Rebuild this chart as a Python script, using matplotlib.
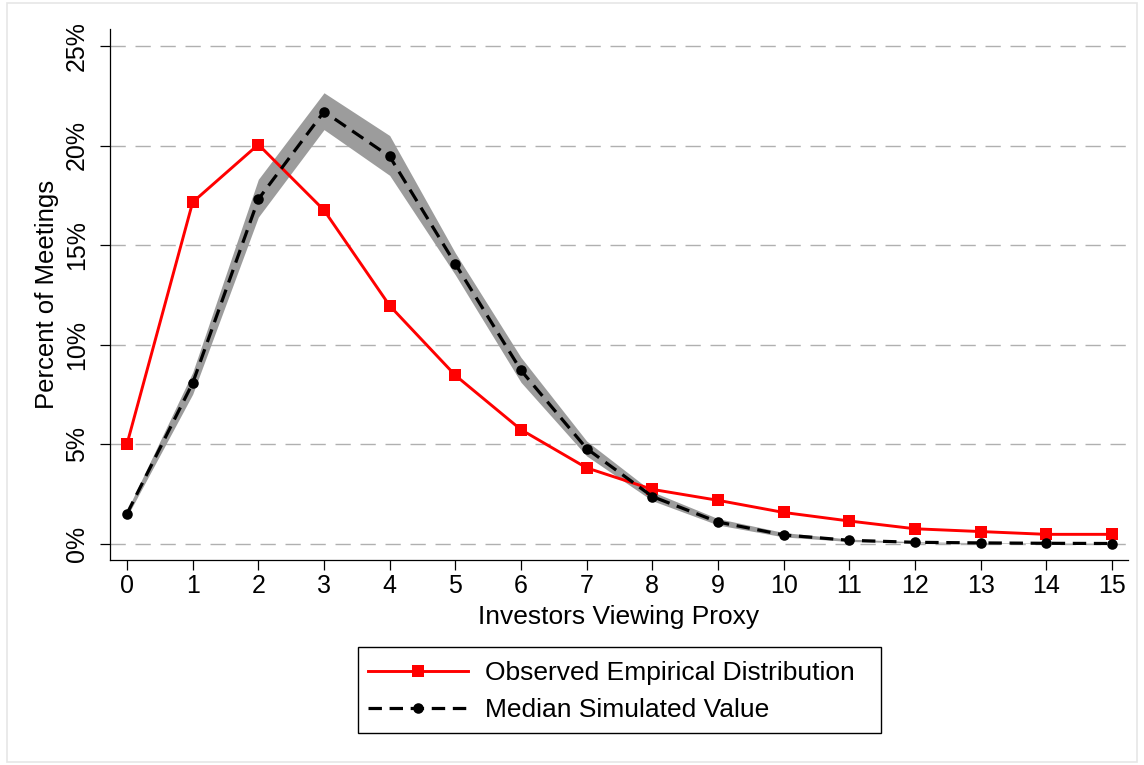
import matplotlib
matplotlib.use("Agg")
import matplotlib.pyplot as plt
from matplotlib.patches import Rectangle
from matplotlib.lines import Line2D
import numpy as np

plt.rcParams['font.family'] = ['Liberation Sans', 'DejaVu Sans']

# ---- data ----
x_vals = list(range(16))
observed = [5.0, 17.15, 20.05, 16.75, 11.95, 8.45, 5.72, 3.8, 2.72, 2.17, 1.56, 1.13, 0.74, 0.6, 0.46, 0.46]
median_sim = [1.5, 8.06, 17.3, 21.7, 19.45, 14.05, 8.7, 4.77, 2.36, 1.08, 0.43, 0.16, 0.06, 0.03, 0.01, 0.0]
band_upper = [1.65, 8.6, 18.3, 22.65, 20.5, 14.6, 9.35, 5.15, 2.6, 1.25, 0.55, 0.22, 0.09, 0.04, 0.02, 0.01]
band_lower = [1.35, 7.5, 16.4, 20.8, 18.5, 13.5, 8.1, 4.4, 2.15, 0.93, 0.33, 0.1, 0.03, 0.01, 0.0, 0.0]
y_ticks = [0, 5, 10, 15, 20, 25]
y_ticklabels = ['0%', '5%', '10%', '15%', '20%', '25%']
x_label = 'Investors Viewing Proxy'
y_label = 'Percent of Meetings'
legend_labels = ['Observed Empirical Distribution', 'Median Simulated Value']

W, H = 1144, 765
fig = plt.figure(figsize=(W / 100, H / 100), dpi=100)
fig.patch.set_facecolor('white')

# light outer border
fig.patches.append(Rectangle((7 / W, 3 / H), (1137 - 7) / W, (762 - 3) / H,
                             transform=fig.transFigure, fill=False,
                             edgecolor='#e6e6e6', linewidth=1.2))

ax_l, ax_r, ax_t, ax_b = 110, 1128, 29, 560
ax = fig.add_axes([ax_l / W, 1 - ax_b / H, (ax_r - ax_l) / W, (ax_b - ax_t) / H])

x0_px, x15_px = 127, 1112
ppu = (x15_px - x0_px) / 15.0
ax.set_xlim((ax_l - x0_px) / ppu, (ax_r - x0_px) / ppu)
y0_px, ppy = 543.5, 19.9
ax.set_ylim((y0_px - ax_b) / ppy, (y0_px - ax_t) / ppy)

# grid
for yt in y_ticks:
    ax.axhline(yt, color='#b0b0b0', linewidth=1.0, linestyle=(0, (11, 7)), zorder=0)

ax.fill_between(x_vals, band_lower, band_upper, color='#9c9c9c', linewidth=0, zorder=1)
ax.plot(x_vals, observed, color='#ff0000', linewidth=2.1, marker='s', markersize=8,
        markeredgewidth=0, zorder=3)
ax.plot(x_vals, median_sim, color='black', linewidth=2.3, linestyle=(0, (4.2, 2.4)),
        marker='o', markersize=7.6, markeredgewidth=0, zorder=4)

for s in ['top', 'right']:
    ax.spines[s].set_visible(False)
for s in ['left', 'bottom']:
    ax.spines[s].set_linewidth(0.9)

ax.set_xticks(x_vals)
ax.set_xticklabels([str(v) for v in x_vals])
ax.set_yticks(y_ticks)
ax.set_yticklabels(y_ticklabels, rotation=90, va='center')
ax.tick_params(axis='both', direction='out', length=7.2, width=0.9, labelsize=18)
ax.tick_params(axis='x', pad=3)
ax.tick_params(axis='y', pad=8)

ax.set_xlabel(x_label, fontsize=19, labelpad=5)
ax.set_ylabel(y_label, fontsize=18.5, labelpad=4)

handles = [
    Line2D([], [], color='#ff0000', linewidth=2.1, marker='s', markersize=8, markeredgewidth=0),
    Line2D([], [], color='black', linewidth=2.3, linestyle=(0, (4.2, 2.4)), marker='o',
           markersize=7.6, markeredgewidth=0),
]
leg = fig.legend(handles, legend_labels, loc='upper left',
                 bbox_to_anchor=(358 / W, 1 - 651 / H), fontsize=19, frameon=False,
                 handlelength=3.8, handletextpad=0.64, labelspacing=0.5,
                 borderpad=0.38, numpoints=1, borderaxespad=0)

# legend frame box
fig.patches.append(Rectangle((358 / W, 1 - 733 / H), (881 - 358) / W, (733 - 647) / H,
                             transform=fig.transFigure, fill=False,
                             edgecolor='black', linewidth=1.0))

fig.savefig('out.png', dpi=100, facecolor='white')
